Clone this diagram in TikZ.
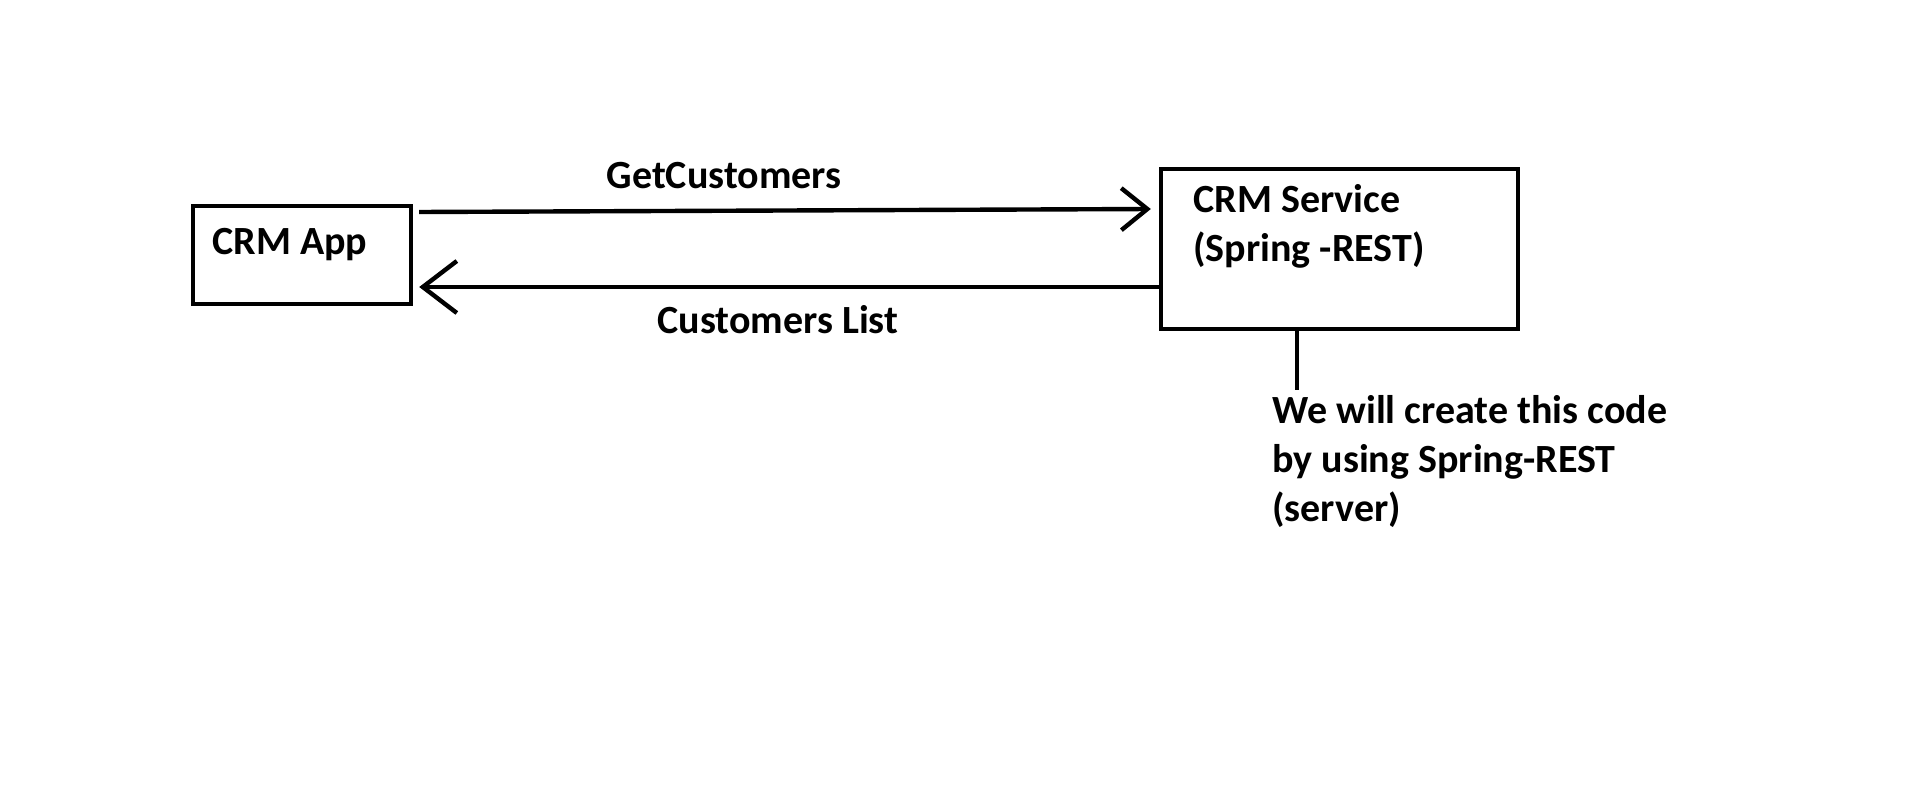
\documentclass[tikz,border=0pt]{standalone}
\usepackage{fontspec}
\setmainfont{Carlito}
\usetikzlibrary{arrows.meta,calc}
\begin{document}
\begin{tikzpicture}[x=0.5pt,y=-0.5pt,
  every node/.style={font=\bfseries\fontsize{20pt}{24.5pt}\selectfont},
  boxnode/.style={draw,line width=2.2pt,inner sep=0pt},
  lbl/.style={inner sep=0pt,anchor=base west,align=left},
  arrA/.style={line width=2.2pt,-{Straight Barb[length=13pt,width=21pt,line width=2.2pt]}},
  arrB/.style={line width=2.2pt,-{Straight Barb[length=17pt,width=26pt,line width=2.2pt]}},
  plain/.style={line width=2.2pt}]
\fill[white] (0,0) rectangle (1914,802);
\useasboundingbox (0,0) rectangle (1914,802);
\node[boxnode,minimum width=109pt,minimum height=49pt] (app) at (302,255) {};
\node[boxnode,minimum width=178.5pt,minimum height=80pt] (svc) at (1339.5,249) {};
\node[lbl] (apptxt) at (212,255) {CRM App};
\node[lbl] (svctxt) at (1193,261) {CRM Service\\(Spring -REST)};
\node[inner sep=0pt,anchor=base] (get) at (724,189) {GetCustomers};
\node[inner sep=0pt,anchor=base] (list) at (778,333) {Customers List};
\node[lbl] (note) at (1272,521) {We will create this code\\by using Spring-REST\\(server)};
\draw[arrA] ([xshift=3pt,yshift=21.5pt]app.east) -- ([xshift=-4pt,yshift=20pt]svc.west);
\draw[arrB] ([yshift=-19pt]svc.west) -- ([xshift=3pt,yshift=-16pt]app.east);
\coordinate (lnend) at (1297,390);
\draw[plain] (svc.south -| lnend) -- (lnend);
\end{tikzpicture}
\end{document}
